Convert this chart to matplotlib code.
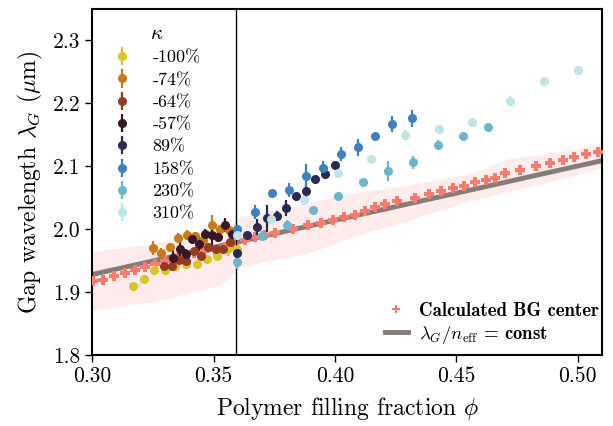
import numpy as np
import matplotlib
matplotlib.use("Agg")
import matplotlib.pyplot as plt

plt.rcParams['font.family'] = ['cmr10', 'DejaVu Serif']
plt.rcParams['mathtext.fontset'] = 'cm'
plt.rcParams['axes.unicode_minus'] = False
plt.rcParams['axes.formatter.use_mathtext'] = True

# measured gap wavelength per kappa: phi, lambda_G, error
kappa_labels = ['-100%', '-74%', '-64%', '-57%', '89%', '158%', '230%', '310%']
kappa_colors = ['#d9c52a', '#c97a16', '#963a22', '#3a1526', '#2b2952', '#3f80c0', '#6cb6cb', '#bfe5e6']

phi_m100 = [0.3169, 0.3214, 0.3255, 0.3299, 0.3340, 0.3384, 0.3430, 0.3471, 0.3513, 0.3557, 0.3598]
lam_m100 = [1.909, 1.920, 1.935, 1.935, 1.942, 1.945, 1.944, 1.952, 1.957, 1.969, 1.968]
err_m100 = [0.003, 0.003, 0.008, 0.003, 0.003, 0.006, 0.003, 0.003, 0.003, 0.011, 0.004]

phi_m74 = [0.3248, 0.3285, 0.3318, 0.3354, 0.3390, 0.3423, 0.3457, 0.3493, 0.3528, 0.3564]
lam_m74 = [1.970, 1.962, 1.972, 1.986, 1.990, 1.989, 1.983, 2.007, 2.001, 1.998]
err_m74 = [0.011, 0.008, 0.003, 0.008, 0.008, 0.006, 0.004, 0.016, 0.004, 0.004]

phi_m64 = [0.3296, 0.3327, 0.3358, 0.3388, 0.3417, 0.3447, 0.3477, 0.3508, 0.3538, 0.3568]
lam_m64 = [1.942, 1.942, 1.951, 1.950, 1.965, 1.958, 1.971, 1.969, 1.969, 1.980]
err_m64 = [0.003, 0.006, 0.004, 0.004, 0.004, 0.003, 0.004, 0.003, 0.003, 0.004]

phi_m57 = [0.3331, 0.3361, 0.3388, 0.3412, 0.3439, 0.3464, 0.3493, 0.3519, 0.3546, 0.3574]
lam_m57 = [1.954, 1.968, 1.961, 1.984, 1.976, 1.992, 1.990, 1.987, 2.007, 1.993]
err_m57 = [0.013, 0.011, 0.008, 0.004, 0.011, 0.008, 0.018, 0.008, 0.011, 0.008]

phi_89 = [0.3598, 0.3639, 0.3679, 0.3719, 0.3760, 0.3800, 0.3840, 0.3879, 0.3919, 0.3960, 0.4000]
lam_89 = [1.962, 1.990, 2.003, 2.017, 2.021, 2.034, 2.052, 2.060, 2.080, 2.088, 2.102]
err_89 = [0.005, 0.004, 0.013, 0.021, 0.008, 0.013, 0.006, 0.011, 0.003, 0.008, 0.003]

phi_158 = [0.3598, 0.3670, 0.3740, 0.3811, 0.3881, 0.3952, 0.4023, 0.4095, 0.4165, 0.4236, 0.4319]
lam_158 = [2.001, 2.027, 2.057, 2.062, 2.085, 2.098, 2.119, 2.130, 2.148, 2.167, 2.176]
err_158 = [0.004, 0.011, 0.003, 0.011, 0.018, 0.011, 0.011, 0.013, 0.003, 0.013, 0.013]

phi_230 = [0.3598, 0.3701, 0.3804, 0.3910, 0.4011, 0.4115, 0.4218, 0.4323, 0.4424, 0.4527, 0.4631]
lam_230 = [1.948, 1.989, 2.006, 2.030, 2.053, 2.075, 2.092, 2.106, 2.134, 2.148, 2.163]
err_230 = [0.011, 0.008, 0.008, 0.006, 0.003, 0.006, 0.016, 0.011, 0.008, 0.003, 0.006]

phi_310 = [0.3598, 0.3735, 0.3874, 0.4012, 0.4150, 0.4288, 0.4428, 0.4565, 0.4722, 0.4860, 0.5002]
lam_310 = [1.990, 2.016, 2.046, 2.089, 2.112, 2.149, 2.160, 2.170, 2.203, 2.235, 2.253]
err_310 = [0.003, 0.003, 0.008, 0.008, 0.003, 0.008, 0.003, 0.003, 0.008, 0.003, 0.003]

phi_sets = [phi_m100, phi_m74, phi_m64, phi_m57, phi_89, phi_158, phi_230, phi_310]
lam_sets = [lam_m100, lam_m74, lam_m64, lam_m57, lam_89, lam_158, lam_230, lam_310]
err_sets = [err_m100, err_m74, err_m64, err_m57, err_89, err_158, err_230, err_310]

# calculated band gap centers
bg_phi = [0.3004, 0.3045, 0.3089, 0.3135, 0.3176, 0.3217, 0.3258, 0.3300, 0.3340, 0.3380,
          0.3420, 0.3460, 0.3505, 0.3545, 0.3585, 0.3628, 0.3670, 0.3711, 0.3752, 0.3827,
          0.3889, 0.3944, 0.3992, 0.4037, 0.4081, 0.4125, 0.4166, 0.4207, 0.4255, 0.4331,
          0.4386, 0.4435, 0.4486, 0.4531, 0.4578, 0.4623, 0.4660, 0.4701, 0.4764, 0.4829,
          0.4884, 0.4938, 0.4986, 0.5035, 0.5082]
bg_lam = [1.917, 1.919, 1.926, 1.930, 1.935, 1.940, 1.944, 1.949, 1.953, 1.958,
          1.962, 1.966, 1.9665, 1.972, 1.977, 1.9825, 1.987, 1.990, 1.994, 2.001,
          2.006, 2.010, 2.014, 2.019, 2.023, 2.029, 2.036, 2.040, 2.044, 2.050,
          2.056, 2.060, 2.066, 2.069, 2.075, 2.078, 2.082, 2.090, 2.094, 2.101,
          2.105, 2.110, 2.114, 2.119, 2.122]

# uncertainty band around the calculated centers
band_phi = [0.300, 0.3244, 0.3519, 0.3570, 0.3608, 0.3882, 0.4019, 0.4156, 0.4294, 0.4362,
            0.4568, 0.4705, 0.4979, 0.510]
band_hi = [1.964, 1.977, 1.996, 2.005, 2.020, 2.040, 2.054, 2.062, 2.070, 2.075,
           2.089, 2.111, 2.127, 2.138]
band_lo = [1.871, 1.884, 1.910, 1.925, 1.940, 1.961, 1.980, 1.998, 2.012, 2.022,
           2.046, 2.059, 2.085, 2.098]

# lambda_G / n_eff = const
const_phi = [0.300, 0.510]
const_lam = [1.928, 2.109]

fig = plt.figure(figsize=(6.13, 4.26), dpi=100)
ax = fig.add_axes([0.1506, 0.1667, 0.8315, 0.8122])

ax.fill_between(band_phi, band_lo, band_hi, color='#fdeceb', lw=0, zorder=1)
line_const, = ax.plot(const_phi, const_lam, color='#857c79', lw=3.5, zorder=2,
                      label=r'$\lambda_G/n_{\mathrm{eff}}$ = const')
bg_pts, = ax.plot(bg_phi, bg_lam, 'P', color='#fa7a6c', ms=6.5, mew=0, zorder=3,
                  label='Calculated BG center')
ax.axvline(0.359, color='black', lw=1, zorder=3)

handles = []
for p, l, e, c, lab in zip(phi_sets, lam_sets, err_sets, kappa_colors, kappa_labels):
    h = ax.errorbar(p, l, yerr=e, fmt='o', color=c, ms=5.5, elinewidth=1.6,
                    capsize=0, zorder=4, label=lab)
    handles.append(h)

ax.set_xlim(0.30, 0.51)
ax.set_ylim(1.8, 2.35)
ax.set_xticks([0.30, 0.35, 0.40, 0.45, 0.50])
ax.set_yticks([1.8, 1.9, 2.0, 2.1, 2.2, 2.3])
ax.set_xticklabels(['0.30', '0.35', '0.40', '0.45', '0.50'])
ax.set_yticklabels(['1.8', '1.9', '2.0', '2.1', '2.2', '2.3'])
ax.tick_params(labelsize=15.5, width=1, length=5)
for s in ax.spines.values():
    s.set_linewidth(1.5)

ax.set_xlabel(r'Polymer filling fraction $\phi$', fontsize=17, labelpad=6)
ax.set_ylabel(r'Gap wavelength $\lambda_G$ ($\mu$m)', fontsize=17, labelpad=6)

leg1 = ax.legend(handles=handles, title=r'$\kappa$', loc='upper left',
                 bbox_to_anchor=(0.008, 1.0), frameon=False, fontsize=13,
                 title_fontsize=15, handlelength=1.0, labelspacing=0.37,
                 handletextpad=1.2)
ax.add_artist(leg1)
ax.legend(handles=[bg_pts, line_const], loc='lower right',
          bbox_to_anchor=(1.012, 0.0), frameon=False,
          prop={'family': 'cmb10', 'size': 13.5}, handlelength=1.2,
          labelspacing=0.2, borderaxespad=0.1, handletextpad=0.6,
          markerscale=0.8)

fig.savefig('out.png', dpi=100)
